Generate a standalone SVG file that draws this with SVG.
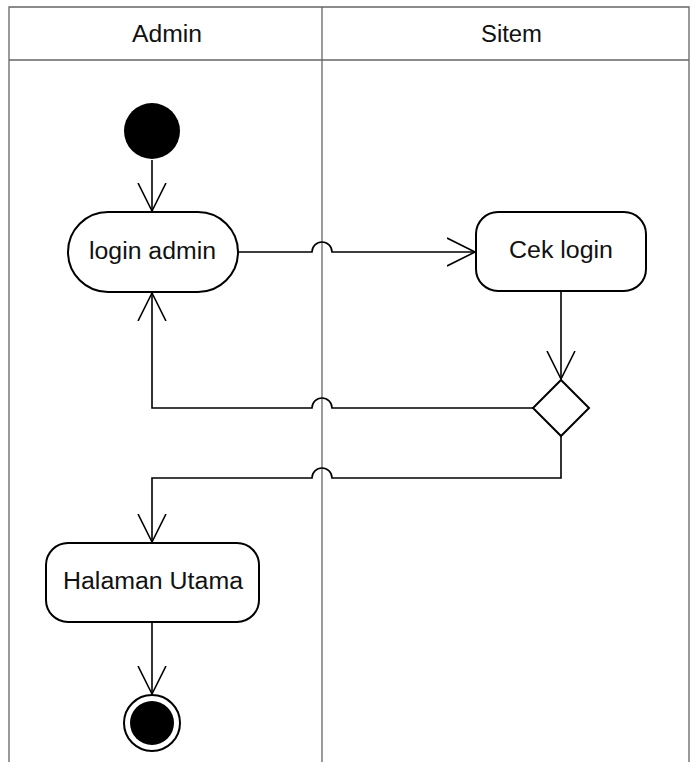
<svg xmlns="http://www.w3.org/2000/svg" width="691" height="762" viewBox="0 0 691 762">
<style>
.lane{fill:none;stroke:#666;stroke-width:1.3}
.node{fill:#fff;stroke:#000;stroke-width:2}
.lbl{font-family:"Liberation Sans",Arial,sans-serif;font-size:23px;fill:#111;text-anchor:middle}
.hdr{font-family:"Liberation Sans",Arial,sans-serif;font-size:23px;fill:#111;text-anchor:middle}
.edge{fill:none;stroke:#000;stroke-width:1.6}
</style>
<defs>
<marker id="arr" markerWidth="30" markerHeight="30" refX="28" refY="15" orient="auto" markerUnits="userSpaceOnUse">
<path d="M0,1 L28,15 L0,29" fill="none" stroke="#000" stroke-width="1.6"/>
</marker>
</defs>
<rect width="691" height="762" fill="#fff"/>
<g id="lanes">
<path class="lane" d="M9,762 V7 H689 V762 M9,60 H689 M322,7 V762"/>
<text class="hdr" x="167" y="42" textLength="70" lengthAdjust="spacingAndGlyphs">Admin</text>
<text class="hdr" x="511.5" y="42" textLength="61" lengthAdjust="spacingAndGlyphs">Sitem</text>
</g>
<g id="connectors">
<path class="edge" d="M152,160 V211" marker-end="url(#arr)"/>
<path class="edge" d="M238,252 H312 A10,10 0 0 1 332,252 H475" marker-end="url(#arr)"/>
<path class="edge" d="M561,291 V379" marker-end="url(#arr)"/>
<path class="edge" d="M533,408 H332 A10,10 0 0 0 312,408 H152 V293" marker-end="url(#arr)"/>
<path class="edge" d="M561,436 V478 H332 A10,10 0 0 0 312,478 H152 V542" marker-end="url(#arr)"/>
<path class="edge" d="M152,622 V694" marker-end="url(#arr)"/>
</g>
<g id="start"><circle cx="152" cy="131" r="28" fill="#000"/></g>
<g id="login-admin">
<rect class="node" x="68" y="212" width="170" height="80" rx="40" ry="40"/>
<text class="lbl" x="152.5" y="259" textLength="127" lengthAdjust="spacingAndGlyphs">login admin</text>
</g>
<g id="cek-login">
<rect class="node" x="476" y="212" width="170" height="79" rx="22" ry="22"/>
<text class="lbl" x="561" y="258" textLength="104" lengthAdjust="spacingAndGlyphs">Cek login</text>
</g>
<g id="decision">
<path class="node" d="M561,380 L589,408 L561,436 L533,408 Z"/>
</g>
<g id="halaman-utama">
<rect class="node" x="46" y="543" width="213" height="79" rx="22" ry="22"/>
<text class="lbl" x="153" y="589" textLength="180" lengthAdjust="spacingAndGlyphs">Halaman Utama</text>
</g>
<g id="end">
<circle cx="152" cy="723" r="28" fill="#fff" stroke="#000" stroke-width="2"/>
<circle cx="152" cy="723" r="22" fill="#000"/>
</g>
</svg>
